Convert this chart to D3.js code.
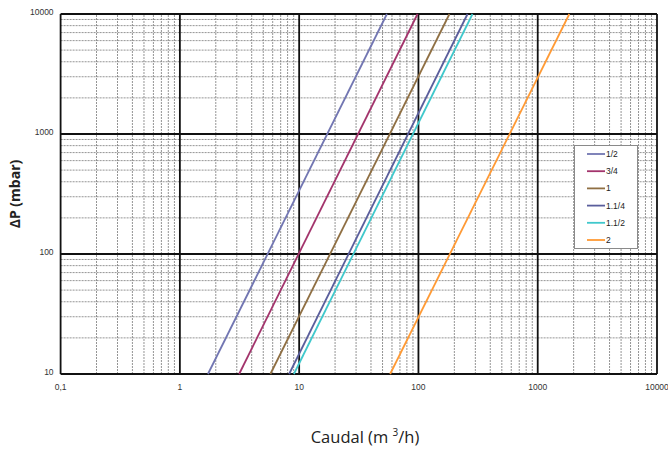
<!DOCTYPE html>
<html>
<head>
<meta charset="utf-8">
<script src="https://cdn.jsdelivr.net/npm/d3@7"></script>
<style>
  body { margin: 0; background: #fff; }
  svg { display: block; }
</style>
</head>
<body>
<div id="chart"></div>
<script>
const seriesNames = ["1/2", "3/4", "1", "1.1/4", "1.1/2", "2"];
const seriesColors = ["#7276b2", "#a3346c", "#8f6f43", "#5a5e9c", "#40c8cc", "#ff9a35"];
const dpEnds = [10, 10000];
const flowAtLow = [1.72, 3.14, 5.74, 8.24, 9.03, 57.9];
const flowAtHigh = [54.4, 98.3, 182, 258, 284, 1841];

const xTicks = [0.1, 1, 10, 100, 1000, 10000];
const xTickLabels = ["0,1", "1", "10", "100", "1000", "10000"];
const yTicks = [10, 100, 1000, 10000];
const yTickLabels = ["10", "100", "1000", "10000"];

const width = 668, height = 450;
const margin = {top: 14, right: 11, bottom: 76, left: 60.6};

const svg = d3.select("#chart").append("svg")
    .attr("width", width)
    .attr("height", height);

const x = d3.scaleLog()
    .domain([0.1, 10000])
    .range([margin.left, width - margin.right]);

const y = d3.scaleLog()
    .domain([10, 10000])
    .range([height - margin.bottom, margin.top]);

// minor grid: 2..9 of every decade
const minorX = [], minorY = [];
for (let d = 0.1; d < 10000; d *= 10)
  for (let m = 2; m <= 9; m++) minorX.push(d * m);
for (let d = 10; d < 10000; d *= 10)
  for (let m = 2; m <= 9; m++) minorY.push(d * m);

const grid = svg.append("g");

grid.selectAll(".minor-x")
  .data(minorX)
  .join("line")
    .attr("x1", d => x(d)).attr("x2", d => x(d))
    .attr("y1", y(10)).attr("y2", y(10000))
    .attr("stroke", "#7a7a7a")
    .attr("stroke-width", 0.8)
    .attr("stroke-dasharray", "2,1");

grid.selectAll(".minor-y")
  .data(minorY)
  .join("line")
    .attr("y1", d => y(d)).attr("y2", d => y(d))
    .attr("x1", x(0.1)).attr("x2", x(10000))
    .attr("stroke", "#7a7a7a")
    .attr("stroke-width", 0.8)
    .attr("stroke-dasharray", "2,1");

grid.selectAll(".major-x")
  .data(xTicks)
  .join("line")
    .attr("x1", d => x(d)).attr("x2", d => x(d))
    .attr("y1", y(10)).attr("y2", y(10000))
    .attr("stroke", "#111")
    .attr("stroke-width", 1.8);

grid.selectAll(".major-y")
  .data(yTicks)
  .join("line")
    .attr("y1", d => y(d)).attr("y2", d => y(d))
    .attr("x1", x(0.1)).attr("x2", x(10000))
    .attr("stroke", "#111")
    .attr("stroke-width", 1.8);

// tick labels
svg.append("g")
  .selectAll("text")
  .data(xTicks)
  .join("text")
    .attr("x", d => x(d))
    .attr("y", height - margin.bottom + 16)
    .attr("text-anchor", "middle")
    .attr("font-family", "Liberation Sans, Arial, sans-serif")
    .attr("font-size", 8.5)
    .attr("fill", "#333")
    .text((d, i) => xTickLabels[i]);

svg.append("g")
  .selectAll("text")
  .data(yTicks)
  .join("text")
    .attr("x", margin.left - 7)
    .attr("y", d => y(d))
    .attr("dy", "0.1em")
    .attr("text-anchor", "end")
    .attr("font-family", "Liberation Sans, Arial, sans-serif")
    .attr("font-size", 8.5)
    .attr("fill", "#333")
    .text((d, i) => yTickLabels[i]);

// series lines
const line = d3.line()
    .x(d => x(d[0]))
    .y(d => y(d[1]));

svg.append("g")
  .selectAll("path")
  .data(seriesNames)
  .join("path")
    .attr("d", (d, i) => line([[flowAtLow[i], dpEnds[0]], [flowAtHigh[i], dpEnds[1]]]))
    .attr("fill", "none")
    .attr("stroke", (d, i) => seriesColors[i])
    .attr("stroke-width", 1.8);

// legend
const lg = svg.append("g");
lg.append("rect")
    .attr("x", 574.5).attr("y", 145.5)
    .attr("width", 63).attr("height", 103)
    .attr("fill", "#fff")
    .attr("stroke", "#8a8a8a")
    .attr("stroke-width", 1);

const items = lg.selectAll(".item")
  .data(seriesNames)
  .join("g")
    .attr("transform", (d, i) => `translate(587,${154 + i * 17.2})`);

items.append("line")
    .attr("x1", 0).attr("x2", 18)
    .attr("stroke", (d, i) => seriesColors[i])
    .attr("stroke-width", 1.8);

items.append("text")
    .attr("x", 19)
    .attr("dy", "0.35em")
    .attr("font-family", "Liberation Sans, Arial, sans-serif")
    .attr("font-size", 8.5)
    .attr("fill", "#222")
    .text(d => d);

// axis titles
svg.append("text")
    .attr("x", 365)
    .attr("y", 443)
    .attr("text-anchor", "middle")
    .attr("font-family", "Open Sans, sans-serif")
    .attr("font-size", 16.5)
    .attr("fill", "#222")
    .html("Caudal (m <tspan font-size='10' dy='-7'>3</tspan><tspan dy='7'>/h)</tspan>");

svg.append("text")
    .attr("transform", "translate(20,194) rotate(-90)")
    .attr("text-anchor", "middle")
    .attr("font-family", "Open Sans, sans-serif")
    .attr("font-weight", "bold")
    .attr("font-size", 14)
    .attr("fill", "#222")
    .text("ΔP (mbar)");
</script>
</body>
</html>
